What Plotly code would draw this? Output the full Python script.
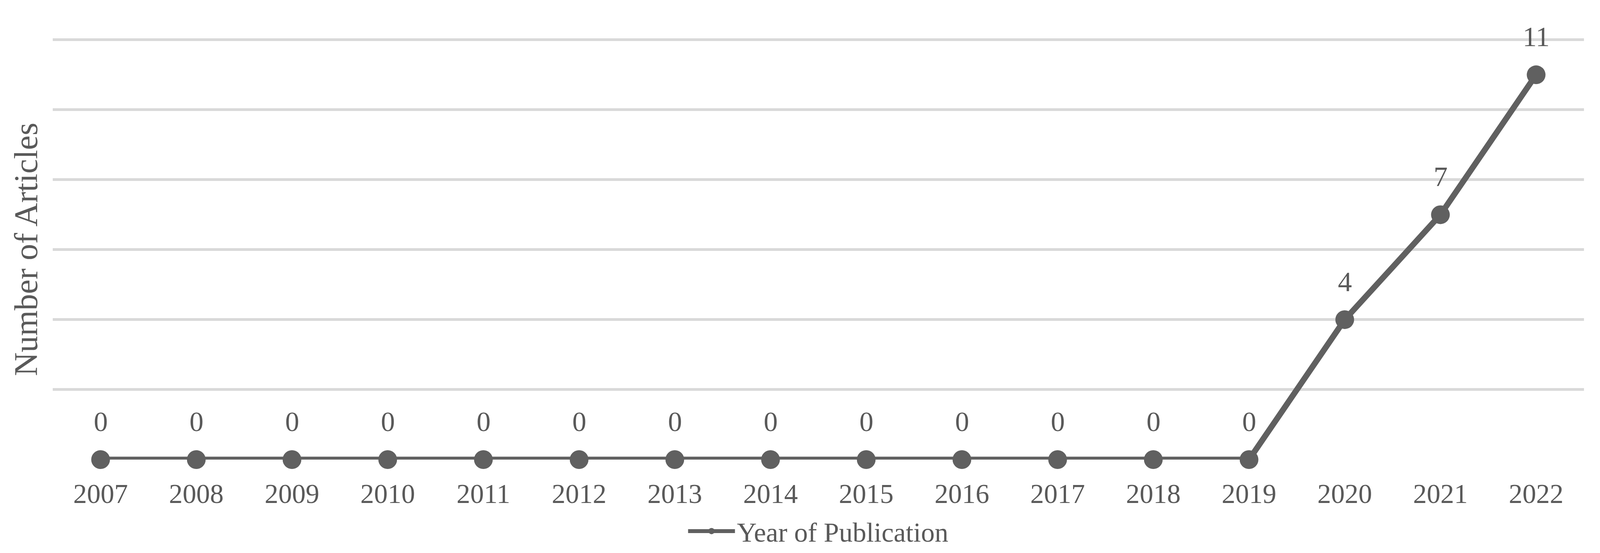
import plotly.graph_objects as go

years = [str(y) for y in range(2007, 2023)]
articles = [0,0,0,0,0,0,0,0,0,0,0,0,0,4,7,11]
series_name = "Year of Publication"

C = "#606060"
T = "#595959"
F = "Liberation Serif"

fig = go.Figure(go.Scatter(x=years, y=articles, mode="lines+markers", name=series_name,
                           line=dict(color=C, width=15), marker=dict(color=C, size=48),
                           cliponaxis=False))
for i, y in enumerate(articles):
    fig.add_annotation(x=i, y=y, xref="x", yref="y", text=str(y), showarrow=False, yshift=97,
                       font=dict(family=F, size=72, color=T))

fig.update_layout(
    width=4107, height=1415, paper_bgcolor="white", plot_bgcolor="white",
    margin=dict(l=127, r=60, t=92, b=244),
    showlegend=True,
    legend=dict(orientation="h", x=0.5, xanchor="center", y=-0.17, yanchor="middle",
                font=dict(family=F, size=70, color=T), itemwidth=120),
    xaxis=dict(type="category", range=[-0.5, 15.5], showgrid=False, showline=False,
               ticks="", ticklabelstandoff=40, tickfont=dict(family=F, size=70, color=T)),
    yaxis=dict(range=[0, 12.02], dtick=2, showgrid=True, gridcolor="#d9d9d9", gridwidth=7,
               showticklabels=False, zeroline=False, ticks="",
               title=dict(text="Number of Articles", standoff=10,
                          font=dict(family=F, size=84, color=T))),
)
fig.write_html("out.html")
